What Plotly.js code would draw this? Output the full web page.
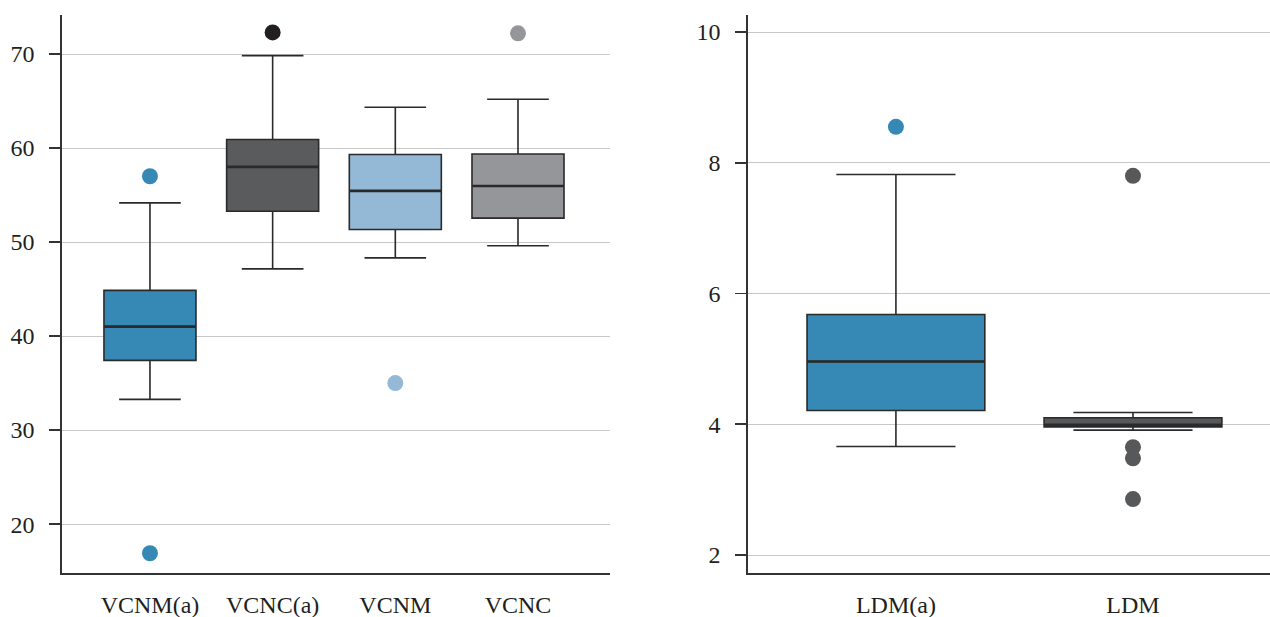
<!DOCTYPE html>
<html>
<head>
<meta charset="utf-8">
<script src="https://cdn.plot.ly/plotly-3.0.1.min.js"></script>
<style>html,body{margin:0;padding:0;background:#fff;}#chart{width:1270px;height:617px;}</style>
</head>
<body>
<div id="chart"></div>
<script>
// Left panel
const leftCats = ['VCNM(a)', 'VCNC(a)', 'VCNM', 'VCNC'];
const leftQ1 = [37.42, 53.28, 51.34, 52.54];
const leftMedian = [41.0, 58.0, 55.44, 55.97];
const leftQ3 = [44.86, 60.9, 59.31, 59.37];
const leftLower = [33.27, 47.15, 48.32, 49.6];
const leftUpper = [54.17, 69.83, 64.34, 65.19];
const leftFill = ['#3688b5', '#5a5b5d', '#94b9d7', '#959699'];
const leftOutlierColor = ['#3688b5', '#231f20', '#94b9d7', '#959699'];
const leftOutliers = [[57.0, 16.9], [72.3], [35.0], [72.2]];

// Right panel
const rightCats = ['LDM(a)', 'LDM'];
const rightQ1 = [4.21, 3.96];
const rightMedian = [4.96, 3.99];
const rightQ3 = [5.68, 4.10];
const rightLower = [3.66, 3.91];
const rightUpper = [7.82, 4.18];
const rightFill = ['#3688b5', '#57585a'];
const rightOutlierColor = ['#3688b5', '#57585a'];
const rightOutliers = [[8.55], [7.80, 3.65, 3.48, 2.855]];

const lineColor = '#2a2a2a';
const traces = [];

function addPanel(cats, q1, med, q3, lo, hi, fill, oc, outs, xa, ya, medSize) {
  cats.forEach((c, i) => {
    traces.push({
      type: 'box', x: [c], q1: [q1[i]], median: [med[i]], q3: [q3[i]],
      lowerfence: [lo[i]], upperfence: [hi[i]],
      fillcolor: fill[i], line: {color: lineColor, width: 1.6},
      width: 0.75, whiskerwidth: 0.67, boxpoints: false,
      xaxis: xa, yaxis: ya, showlegend: false, hoverinfo: 'skip'
    });
    traces.push({
      type: 'scatter', mode: 'markers', x: outs[i].map(() => c), y: outs[i],
      marker: {color: oc[i], size: 16, line: {width: 0}},
      xaxis: xa, yaxis: ya, showlegend: false, hoverinfo: 'skip'
    });
  });
  // thicker median lines, drawn from the median values
  traces.push({
    type: 'scatter', mode: 'markers', x: cats, y: med,
    marker: {symbol: 'line-ew-open', size: medSize, color: lineColor, line: {width: 2.6, color: lineColor}},
    xaxis: xa, yaxis: ya, showlegend: false, hoverinfo: 'skip', cliponaxis: false
  });
}

addPanel(leftCats, leftQ1, leftMedian, leftQ3, leftLower, leftUpper, leftFill, leftOutlierColor, leftOutliers, 'x', 'y', 65);
addPanel(rightCats, rightQ1, rightMedian, rightQ3, rightLower, rightUpper, rightFill, rightOutlierColor, rightOutliers, 'x2', 'y2', 127);

const font = {family: 'Liberation Serif, Times New Roman, serif', size: 24, color: '#231f20'};
const xCommon = {
  type: 'category', showline: true, linecolor: '#333', linewidth: 1.6,
  showgrid: false, zeroline: false, ticks: 'outside', ticklen: 10, tickcolor: 'rgba(0,0,0,0)',
  tickfont: font, fixedrange: true
};
const yCommon = {
  showline: true, linecolor: '#333', linewidth: 1.6, showgrid: true,
  gridcolor: '#c8c8c8', gridwidth: 1, zeroline: false, ticks: 'outside',
  ticklen: 11, tickcolor: '#333', tickwidth: 1.6, tickfont: font, fixedrange: true,
  ticklabelstandoff: 10
};

const layout = {
  width: 1270, height: 617,
  margin: {l: 0, r: 0, t: 0, b: 0},
  paper_bgcolor: '#fff', plot_bgcolor: '#fff',
  showlegend: false,
  xaxis: Object.assign({}, xCommon, {domain: [62/1270, 610/1270], range: [-0.717, 3.75], anchor: 'y', categoryarray: leftCats, categoryorder: 'array'}),
  yaxis: Object.assign({}, yCommon, {domain: [1-573/617, 1-15/617], range: [14.8, 74.15], tickvals: [20,30,40,50,60,70], anchor: 'x'}),
  xaxis2: Object.assign({}, xCommon, {domain: [748/1270, 1], range: [-0.624, 1.578], anchor: 'y2', categoryarray: rightCats, categoryorder: 'array'}),
  yaxis2: Object.assign({}, yCommon, {domain: [1-573/617, 1-15/617], range: [1.725, 10.26], tickvals: [2,4,6,8,10], anchor: 'x2'})
};

Plotly.newPlot('chart', traces, layout, {displayModeBar: false, staticPlot: true});
</script>
</body>
</html>
